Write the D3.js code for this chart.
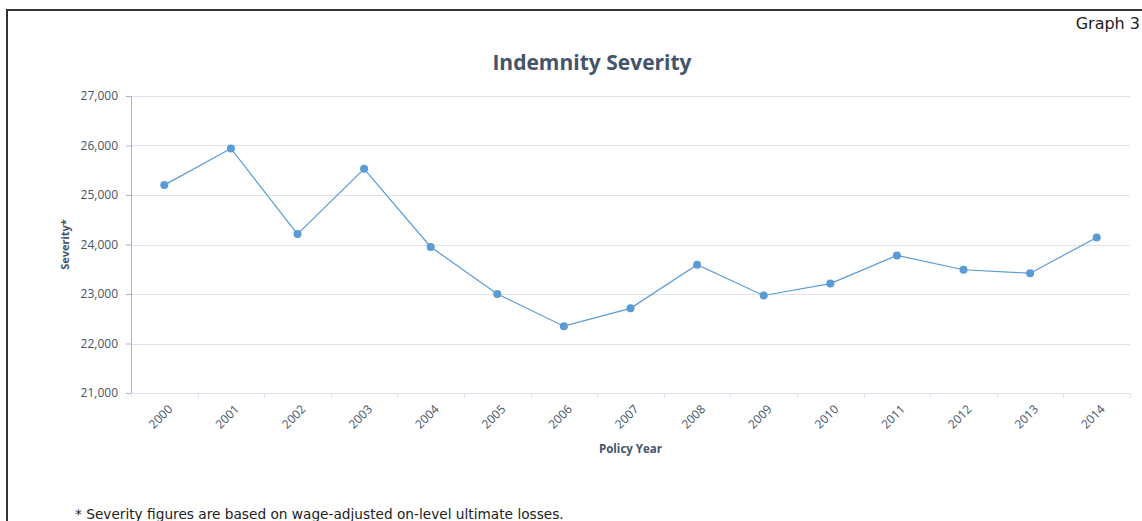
<!DOCTYPE html>
<html>
<head>
<meta charset="utf-8">
<script src="https://cdn.jsdelivr.net/npm/d3@7"></script>
<style>
  html, body { margin: 0; padding: 0; background: #fff; }
  svg { display: block; }
</style>
</head>
<body>
<svg id="chart"></svg>
<script>
"use strict";

const years = ["2000", "2001", "2002", "2003", "2004", "2005", "2006", "2007",
               "2008", "2009", "2010", "2011", "2012", "2013", "2014"];
const severity = [25200, 25940, 24210, 25530, 23950, 23000, 22350, 22710,
                  23590, 22970, 23210, 23780, 23490, 23420, 24140];
const yTicks = [21000, 22000, 23000, 24000, 25000, 26000, 27000];

const W = 1142, H = 521;
const margin = {top: 96, right: 12, bottom: 128, left: 131};
const width = W - margin.left - margin.right;
const height = H - margin.top - margin.bottom;

const textColor = "#44546a";
const lineColor = "#5b9bd5";
const gridColor = "#dde3ec";
const font = "'Open Sans', 'Noto Sans', sans-serif";

const svg = d3.select("#chart").attr("width", W).attr("height", H);

// page frame (only top & left visible in the crop)
svg.append("path")
  .attr("d", `M7,${H} L7,10 L${W},10`)
  .attr("fill", "none")
  .attr("stroke", "#333")
  .attr("stroke-width", 2);

svg.append("text")
  .attr("x", W - 2).attr("y", 29)
  .attr("text-anchor", "end")
  .attr("font-family", "'DejaVu Sans', sans-serif")
  .attr("font-size", 16)
  .attr("fill", "#222")
  .text("Graph 3");

svg.append("text")
  .attr("x", 592).attr("y", 70)
  .attr("text-anchor", "middle")
  .attr("font-family", font)
  .attr("font-weight", "bold")
  .attr("font-size", 21)
  .attr("fill", textColor)
  .text("Indemnity Severity");

const g = svg.append("g").attr("transform", `translate(${margin.left},${margin.top})`);

const x = d3.scaleBand().domain(years).range([0, width]);
const y = d3.scaleLinear().domain([21000, 27000]).range([height, 0]);

// gridlines
g.append("g")
  .selectAll("line")
  .data(yTicks)
  .enter().append("line")
  .attr("x1", 0).attr("x2", width)
  .attr("y1", d => Math.round(y(d)) + 0.5)
  .attr("y2", d => Math.round(y(d)) + 0.5)
  .attr("stroke", gridColor);

// y axis
const yAxis = g.append("g")
  .call(d3.axisLeft(y).tickValues(yTicks).tickSize(5).tickPadding(8).tickFormat(d3.format(",")));
yAxis.select(".domain").attr("stroke", "#a9b4cc");
yAxis.selectAll(".tick line").attr("stroke", "#a9b4cc");
yAxis.selectAll("text")
  .attr("font-family", font)
  .attr("font-size", 12)
  .attr("fill", textColor);

// x axis: ticks at band boundaries
const xAxis = g.append("g").attr("transform", `translate(0,${height})`);
xAxis.selectAll("line")
  .data(years.concat(["end"]))
  .enter().append("line")
  .attr("x1", (d, i) => Math.round(i * x.step()) + 0.5)
  .attr("x2", (d, i) => Math.round(i * x.step()) + 0.5)
  .attr("y1", 0).attr("y2", 5)
  .attr("stroke", gridColor);

xAxis.selectAll("text")
  .data(years)
  .enter().append("text")
  .attr("transform", d => `translate(${x(d) + x.bandwidth() / 2 + 6},${14}) rotate(-45)`)
  .attr("text-anchor", "end")
  .attr("dy", "0.35em")
  .attr("font-family", font)
  .attr("font-size", 12)
  .attr("fill", textColor)
  .text(d => d);

// axis titles
g.append("text")
  .attr("transform", `translate(-62,${height / 2}) rotate(-90)`)
  .attr("text-anchor", "middle")
  .attr("font-family", font)
  .attr("font-weight", "bold")
  .attr("font-size", 11)
  .attr("fill", textColor)
  .text("Severity*");

g.append("text")
  .attr("x", width / 2).attr("y", height + 60)
  .attr("text-anchor", "middle")
  .attr("font-family", font)
  .attr("font-weight", "bold")
  .attr("font-size", 11.5)
  .attr("fill", textColor)
  .text("Policy Year");

// series
const line = d3.line()
  .x((d, i) => x(years[i]) + x.bandwidth() / 2)
  .y(d => y(d));

g.append("path")
  .datum(severity)
  .attr("d", line)
  .attr("fill", "none")
  .attr("stroke", lineColor)
  .attr("stroke-width", 1.2);

g.selectAll(".dot")
  .data(severity)
  .enter().append("circle")
  .classed("dot", true)
  .attr("cx", (d, i) => x(years[i]) + x.bandwidth() / 2)
  .attr("cy", d => y(d))
  .attr("r", 4)
  .attr("fill", lineColor);

// footnote
svg.append("text")
  .attr("x", 75).attr("y", 519)
  .attr("font-family", "'DejaVu Sans', sans-serif")
  .attr("font-size", 13.7)
  .attr("fill", "#222")
  .text("* Severity figures are based on wage-adjusted on-level ultimate losses.");
</script>
</body>
</html>
